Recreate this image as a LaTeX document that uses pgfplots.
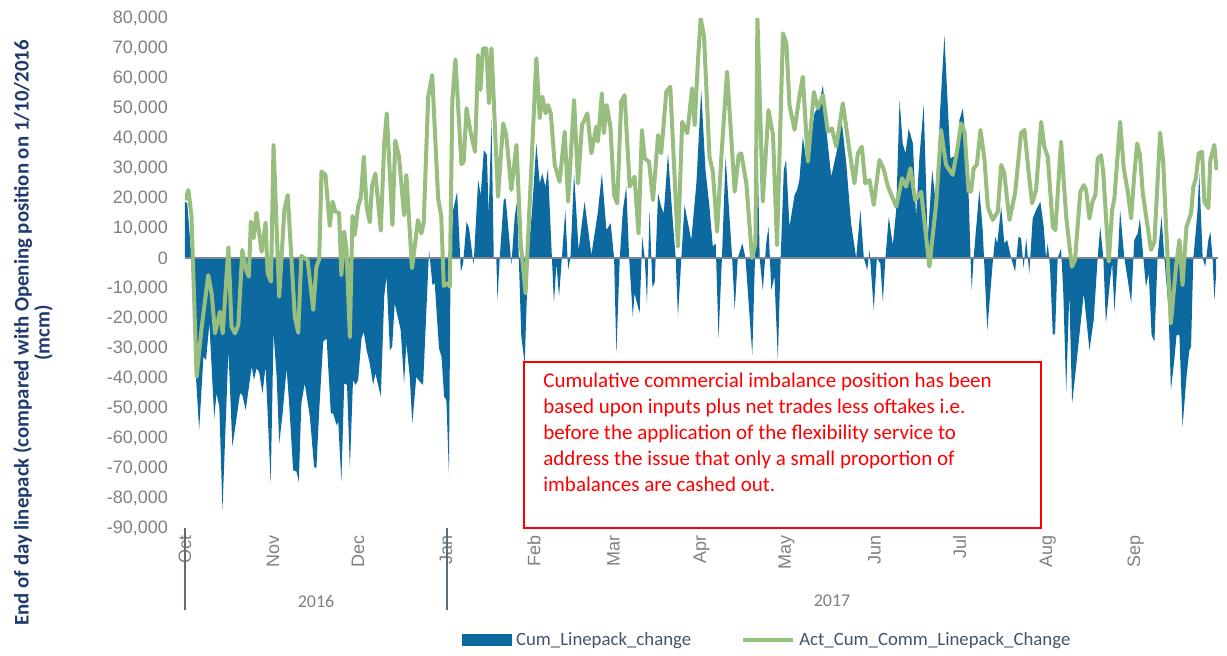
\documentclass[border=0pt]{standalone}
\usepackage{fontspec}
\setmainfont{Carlito}
\newfontfamily\arialfont{Liberation Sans}
\usepackage{pgfplots}
\pgfplotsset{compat=1.18}
\definecolor{lpBlue}{HTML}{0C6AA0}
\definecolor{lpGreen}{HTML}{97BE7E}
\definecolor{zeroGrey}{HTML}{7A8696}
\definecolor{tickGrey}{HTML}{808080}
\definecolor{sepGrey}{HTML}{5B6B80}
\definecolor{navyLabel}{HTML}{1F3A6E}
\definecolor{legendText}{HTML}{44546A}

\pgfplotstableread{
day value
0 18800
0.8 18200
2.3 0
3.5 -34000
5.0 -57300
6.5 -32900
7.4 -34000
8.6 -21800
10.3 -53400
11.1 -45100
12.1 -49600
13.2 -84000
15.3 -30700
16.7 -62900
19.4 -45100
20.2 -45700
21.4 -50700
23.5 -36200
24.3 -40700
25.2 -36800
26.1 -37900
27.3 -45100
28.4 -36200
30.2 -75100
31.2 -25100
32.3 -39600
33.2 -61800
34.4 -51800
35.8 -36800
36.7 -48400
38.1 -70700
39.3 -71200
40.1 -74600
41.0 -48400
42.2 -41800
44.0 -52900
45.5 -69600
46.3 -70100
47.3 -50700
48.7 -27900
49.9 -26800
51.4 -51800
52.2 -51800
53.4 -55700
54.0 -54600
55.1 -74600
56.1 -41800
57.1 -42300
58.1 -70100
59.2 -40700
60.1 -42300
61.0 -40700
62.2 -26800
63.0 -24600
64.0 -30700
65.1 -35100
66.3 -42300
67.1 -38400
69.0 -46200
70.2 -12900
71.0 -6200
72.2 -30700
73.0 -29600
73.9 -15100
76.0 -24000
77.2 -41800
78.0 -28400
79.2 -39600
80.1 -55100
81.5 -39600
82.7 -41200
83.9 -42300
86.0 2700
87.2 -9000
88.0 -8400
89.5 -30100
90.4 -32900
91.3 -46200
92.1 -47300
93.0 -71800
93.6 0
94.5 16000
95.9 22100
97.2 -4600
98.0 -1800
99.2 12100
100.1 9900
101.7 -2300
103.3 26000
104.2 21000
105.3 36000
106.4 34300
107.0 14300
108.0 46000
108.8 0
109.7 0
110.1 -14000
110.9 0
112.3 19300
113.0 19900
114.4 4900
115.0 -2300
116.2 13800
117.0 18800
118.5 -26200
119.7 -35100
120.9 0
122.3 16000
123.8 38200
125.0 24900
125.9 28200
127.0 23800
127.9 29900
129.3 0
130.0 -15100
130.9 -1800
131.8 -12900
132.8 0
134.0 16000
135.0 -4000
135.8 0
137.1 28200
138.7 2700
140.8 18800
143.2 1000
145.5 15400
146.9 28200
148.5 9300
150.0 11600
151.2 0
152.0 -31800
153.2 0
154.3 16000
155.5 23800
156.5 0
157.8 -19600
158.4 -11800
160.2 -18400
161.1 7100
162.0 0
162.8 -15100
163.7 16000
164.7 -9600
165.5 -8400
166.7 21600
167.8 17100
168.7 14900
170.2 34900
171.6 16000
172.9 0
173.7 -19600
174.9 0
176.0 17700
178.4 6000
180.2 24900
181.9 56000
183.4 29300
184.8 17100
186.0 3800
187.0 4900
188.0 -26800
189.2 0
190.5 33800
191.7 16000
192.8 0
193.7 -17300
194.8 0
196.4 4900
197.5 0
199.9 -32300
201.0 4900
201.7 40000
202.5 0
203.6 -10700
204.8 4900
205.6 10400
206.6 -10700
207.7 -6200
208.9 -34000
209.9 0
211.0 29300
211.8 32700
213.0 10400
214.8 21000
215.7 22700
216.5 26000
217.7 40400
218.9 32700
220.4 38800
221.8 48200
223.4 51000
224.8 57700
226.0 42700
227.7 27100
229.5 34900
231.5 44900
233.0 31600
234.7 11600
236.5 0
238.0 16000
239.2 0
240.4 -4000
241.2 2700
242.7 -17300
243.8 0
245.0 -1800
245.9 -14600
246.8 0
248.0 13800
249.4 4300
250.6 16000
251.8 52700
252.9 38200
253.9 34900
255.0 43200
256.5 38200
257.6 13800
258.8 33800
260.3 51000
261.7 6000
263.3 29300
264.7 17100
266.1 49300
267.6 74300
268.8 50400
269.7 33200
270.8 33800
271.9 33200
272.9 46000
274.1 49900
275.0 39900
276.2 19300
276.8 0
277.2 -10700
277.9 0
279.9 22700
281.1 9300
282.7 -24000
284.6 -1800
285.5 7100
286.2 4900
287.6 17100
288.7 4900
289.7 6000
291.1 0
292.5 -4600
293.7 7100
294.6 6600
295.5 -3400
296.4 6600
297.5 -5100
298.7 13200
299.9 16000
301.4 18800
302.6 10400
303.4 0
304.0 4900
304.8 -2900
305.8 -25700
306.6 -25100
307.5 0
308.7 3200
309.5 -11800
310.5 -44600
311.6 -11800
312.6 -48400
314.0 -36200
316.7 -11800
318.7 -30700
320.2 -20700
321.6 0
322.5 10400
323.6 0
324.5 -21800
326.0 -7300
326.7 -1800
327.5 -17900
328.7 0
329.5 16000
331.0 0
332.2 -7300
333.4 -15100
334.5 6000
335.7 8200
336.5 13200
337.7 0
338.6 -9600
339.6 -5100
340.6 -25700
341.6 -27900
342.7 0
344.1 13800
345.1 0
346.6 -17300
347.4 -44000
348.6 -34000
349.4 -25700
350.4 -25700
351.5 -56200
352.9 -39600
353.9 -30700
354.5 -29600
355.3 0
356.0 7100
356.8 16000
357.4 28200
358.6 0
359.5 -2900
360.6 6000
361.3 8800
362.1 0
362.7 -14000
363.3 -6200
}\linepack

\pgfplotstableread{
day value
0 19300
1.2 22700
2.3 13800
4.1 -39600
5.9 -22900
8.2 -5700
9.4 -11800
10.6 -25100
12.3 -17900
13.3 -25100
15.3 3600
16.4 -22900
17.6 -25100
18.8 -22300
20.2 2700
21.5 -4000
22.5 -6200
23.2 12100
24.2 6600
25.2 15100
27.0 2100
28.4 11800
29.1 -5100
30.3 -7900
31.2 37700
33.2 -12900
35.0 16000
36.2 21000
38.7 -19600
39.9 -24900
41.0 700
43.2 -700
45.2 -17300
46.3 -2900
47.3 -400
48.1 28800
49.5 27700
51.0 10700
52.0 18800
53.0 15400
54.3 15100
55.1 -5700
56.1 8800
56.9 2700
58.1 -26400
59.0 14000
59.8 7700
61.0 17100
62.0 20400
63.0 33800
64.0 17100
65.1 11900
65.9 24000
67.1 28200
69.0 9100
70.2 38200
71.1 48200
73.1 11000
74.1 39100
75.4 33800
77.2 14300
78.0 27700
80.0 -3400
82.1 12700
83.3 8200
84.1 11600
85.7 53800
87.1 61000
89.2 19900
90.3 13800
91.2 -9300
92.7 -8400
93.3 -9600
94.2 52700
95.3 66200
97.4 31300
98.2 32100
99.2 49900
100.7 41600
102.2 35400
103.3 67700
104.1 56000
105.0 69900
106.2 69900
107.1 51600
108.0 69900
110.3 20400
112.1 44900
113.2 41000
115.0 22700
116.8 37700
118.3 4900
120.0 -11800
123.8 66600
125.0 46600
125.9 53800
127.1 48200
127.9 51000
128.9 48200
130.3 31000
132.0 25400
133.8 42100
135.0 18800
137.1 52700
138.5 24900
139.9 44300
141.8 48200
143.2 34900
144.9 43800
145.5 38800
146.9 54900
147.6 41600
148.6 51000
149.9 43800
151.2 21000
152.3 18200
153.7 52100
154.9 54300
156.7 23800
158.4 27100
159.8 8200
161.0 42700
162.0 33200
163.5 32100
164.9 19300
166.7 41000
167.8 34900
169.6 55400
171.0 57100
173.7 3800
175.2 45400
177.0 41600
178.7 56600
179.6 44300
180.7 64900
181.7 80000
182.9 73800
184.8 33800
186.0 28800
187.5 8800
189.0 33800
191.0 62100
193.7 22100
195.1 34300
196.0 34900
197.8 24900
199.8 0
201.0 4900
201.7 80000
203.6 18800
205.6 49300
207.2 41000
208.6 4300
210.7 74900
211.9 71600
213.0 51000
214.8 42700
216.3 52700
217.7 60400
219.5 32100
221.6 55400
223.0 49900
224.8 54300
226.5 42100
227.9 43200
229.5 37100
231.8 51600
234.1 36000
235.9 24900
237.1 34900
238.5 37100
239.7 24900
241.2 26000
242.7 17700
244.7 32700
246.1 29900
247.7 23800
250.6 17100
252.7 26600
254.1 23800
255.6 29900
257.3 19300
259.4 22100
262.3 -2900
264.7 18200
266.4 42700
268.2 31000
269.4 29300
270.5 27700
271.9 34900
273.5 44900
274.7 42100
276.1 22100
277.0 22100
277.9 29900
279.0 31000
280.3 42700
281.7 33000
282.9 17000
284.6 12700
286.4 15400
287.6 31000
288.7 28200
290.5 12700
292.5 21600
294.6 41600
295.8 42700
297.0 31000
298.5 18200
299.9 22700
301.7 45400
302.8 37100
304.0 33800
305.8 10400
306.7 9300
308.7 38800
310.5 13800
312.5 -2900
313.6 -700
315.5 22100
316.7 24300
317.5 22700
318.7 13200
319.8 18800
320.8 21000
321.6 33200
322.8 34300
323.6 28200
325.5 -1200
326.7 16000
327.5 19900
329.5 45400
330.8 29900
332.2 22100
333.4 13200
334.5 27700
335.5 38200
336.5 34300
337.5 21600
338.6 14300
340.4 2700
341.6 5400
343.6 41800
344.7 32100
345.7 10400
347.4 -21800
349.2 -2900
350.4 6000
351.5 -9000
352.9 10400
354.5 14900
355.3 23800
356.2 26600
357.2 34900
358.4 35400
359.2 18800
360.6 16600
361.3 32700
362.7 37700
363.5 29300
}\commpack

\begin{document}
\begin{tikzpicture}[x=1pt,y=1pt]
\useasboundingbox (-92.5,-63.5) rectangle (521,264);
\begin{axis}[
  at={(0,0)}, anchor=south west,
  scale only axis, width=516.5pt, height=255pt,
  xmin=0, xmax=364, ymin=-90000, ymax=80000,
  axis line style={draw=none},
  major tick length=0pt,
  ytick={-90000,-80000,...,80000},
  scaled y ticks=false,
  /pgf/number format/1000 sep={,},
  /pgf/number format/assume math mode=true,
  yticklabel style={font=\arialfont\fontsize{9}{10}\selectfont, text=tickGrey, xshift=-5pt},
  xtick={0,31,61,92,123,151,182,212,243,273,304,335},
  xticklabels={Oct,Nov,Dec,Jan,Feb,Mar,Apr,May,Jun,Jul,Aug,Sep},
  xticklabel style={rotate=90, anchor=east, font=\arialfont\fontsize{9}{10}\selectfont, text=tickGrey},
  legend style={at={(0.262,-0.22)}, anchor=west, draw=none, fill=none,
    font=\fontsize{9.4}{11}\selectfont, text=legendText,
    /tikz/every even column/.append style={column sep=23pt}},
  legend columns=2,
  legend cell align=left,
]
\addplot[fill=lpBlue, draw=none,
  legend image code/.code={\fill[lpBlue] (0pt,-3pt) rectangle (25pt,3pt);}]
  table[x=day,y=value] {\linepack} \closedcycle;
\addlegendentry{Cum\_Linepack\_change}
\addplot[zeroGrey, line width=0.8pt, forget plot] coordinates {(0,0) (364,0)};
\addplot[lpGreen, line width=2pt, line join=round,
  legend image code/.code={\draw[lpGreen, line width=2pt] (0pt,0pt) -- (25pt,0pt);}]
  table[x=day,y=value] {\commpack};
\addlegendentry{Act\_Cum\_Comm\_Linepack\_Change}
\end{axis}
\draw[sepGrey, line width=0.6pt] (0,0) -- (0,-41);
\draw[sepGrey, line width=0.6pt] (131,0) -- (131,-41);
\node[text=tickGrey, font=\fontsize{9}{10}\selectfont] at (65.5,-36.5) {2016};
\node[text=tickGrey, font=\fontsize{9}{10}\selectfont] at (323.5,-36.5) {2017};
\node[rotate=90, align=center, text=navyLabel, font=\bfseries\fontsize{10.4}{10.5}\selectfont] at (-76,97.5)
  {End of day linepack (compared with Opening position on 1/10/2016\\(mcm)};
\fill[white] (169.5,0) rectangle (428,83);
\draw[red, line width=0.8pt] (169.5,0) rectangle (428,83);
\node[anchor=north west, inner sep=0pt, align=left, text=red, font=\fontsize{10.5}{13}\selectfont] at (179,77.5)
  {Cumulative commercial imbalance position has been\\
   based upon inputs plus net trades less oftakes i.e.\\
   before the application of the flexibility service to\\
   address the issue that only a small proportion of\\
   imbalances are cashed out.};
\end{tikzpicture}
\end{document}
